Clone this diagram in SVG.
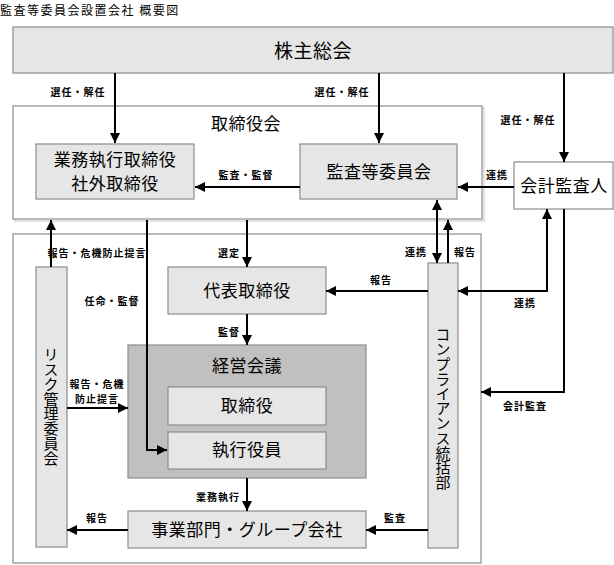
<svg xmlns="http://www.w3.org/2000/svg" width="614" height="565" viewBox="0 0 614 565">
<style>
text{font-family:"Noto Sans CJK JP","Noto Sans CJK SC",sans-serif;fill:#000}
.box{fill:#e6e6e6;stroke:#8c8c8c;stroke-width:1.2}
.frame{fill:#fff;stroke:#8c8c8c;stroke-width:1.2}
.dark{fill:#c0c0c0;stroke:#8c8c8c;stroke-width:1.2}
.sh{fill:none;stroke:#cfcfcf;stroke-width:1.2}
.t{font-size:17px;text-anchor:middle;letter-spacing:0.5px}
.v{font-size:15px;writing-mode:vertical-rl;text-anchor:start;letter-spacing:-0.2px}
.l{font-size:10px;font-weight:bold;text-anchor:middle;letter-spacing:1px}
.c{fill:none;stroke:#000;stroke-width:2}
</style>
<defs>
<marker id="ah" viewBox="0 0 10 10" refX="10" refY="5" markerWidth="10" markerHeight="10" markerUnits="userSpaceOnUse" orient="auto-start-reverse">
<path d="M0,0 L10,5 L0,10 z" fill="#000"/>
</marker>
</defs>
<rect width="614" height="565" fill="#fff"/>
<text x="0" y="15" style="font-size:12px;letter-spacing:1.5px">監査等委員会設置会社 概要図</text>

<g id="shareholders">
<rect class="box" x="13" y="27" width="600" height="46"/>
<text class="t" x="313" y="58" style="font-size:19px">株主総会</text>
</g>
<g id="board">
<rect class="sh" x="15" y="108" width="469" height="113"/>
<rect class="frame" x="13" y="106" width="469" height="113"/>
<text class="t" x="246" y="130">取締役会</text>
</g>
<g id="exec-directors">
<rect class="box" x="36" y="144" width="158" height="55"/>
<text class="t" x="115" y="166">業務執行取締役</text>
<text class="t" x="115" y="190">社外取締役</text>
</g>
<g id="audit-committee">
<rect class="box" x="300" y="144" width="157" height="55"/>
<text class="t" x="379" y="178">監査等委員会</text>
</g>
<g id="auditor">
<rect class="frame" x="514" y="162" width="99" height="47"/>
<text class="t" x="564" y="192">会計監査人</text>
</g>
<g id="lower-frame">
<rect class="frame" x="13" y="234" width="468" height="329"/>
</g>
<g id="risk-committee">
<rect class="box" x="36" y="267" width="31" height="280"/>
<text class="v" x="51" y="347">リスク管理委員会</text>
</g>
<g id="compliance">
<rect class="box" x="428" y="263" width="30" height="285"/>
<text class="v" x="443" y="327">コンプライアンス統括部</text>
</g>
<g id="representative">
<rect class="box" x="168" y="267" width="158" height="47"/>
<text class="t" x="247" y="297">代表取締役</text>
</g>
<g id="management-meeting">
<rect class="dark" x="128" y="345" width="238" height="133"/>
<text class="t" x="247" y="372">経営会議</text>
</g>
<g id="directors">
<rect class="box" x="168" y="387" width="158" height="38"/>
<text class="t" x="247" y="412">取締役</text>
</g>
<g id="officers">
<rect class="box" x="168" y="432" width="158" height="37"/>
<text class="t" x="247" y="456">執行役員</text>
</g>
<g id="business">
<rect class="box" x="128" y="511" width="238" height="37"/>
<text class="t" x="247" y="536">事業部門・グループ会社</text>
</g>

<g id="connectors">
<path class="c" d="M115,73 V143" marker-end="url(#ah)"/>
<path class="c" d="M379,73 V143" marker-end="url(#ah)"/>
<path class="c" d="M564,73 V162" marker-end="url(#ah)"/>
<path class="c" d="M300,187 H195" marker-end="url(#ah)"/>
<path class="c" d="M514,187 H458" marker-end="url(#ah)"/>
<path class="c" d="M437,200 V263" marker-start="url(#ah)" marker-end="url(#ah)"/>
<path class="c" d="M448,263 V220" marker-end="url(#ah)"/>
<path class="c" d="M51,267 V220" marker-end="url(#ah)"/>
<path class="c" d="M147,220 V450 H167" marker-end="url(#ah)"/>
<path class="c" d="M247,220 V267" marker-end="url(#ah)"/>
<path class="c" d="M247,314 V345" marker-end="url(#ah)"/>
<path class="c" d="M67,408 H128" marker-end="url(#ah)"/>
<path class="c" d="M247,478 V511" marker-end="url(#ah)"/>
<path class="c" d="M128,530 H67" marker-end="url(#ah)"/>
<path class="c" d="M428,530 H366" marker-end="url(#ah)"/>
<path class="c" d="M428,291 H326" marker-end="url(#ah)"/>
<path class="c" d="M458,291 H547 V209" marker-start="url(#ah)" marker-end="url(#ah)"/>
<path class="c" d="M564,209 V392 H481" marker-end="url(#ah)"/>
<text class="l" x="78" y="96">選任・解任</text>
<text class="l" x="342" y="96">選任・解任</text>
<text class="l" x="528" y="124">選任・解任</text>
<text class="l" x="246" y="179">監査・監督</text>
<text class="l" x="497" y="179">連携</text>
<text class="l" x="97" y="257">報告・危機防止提言</text>
<text class="l" x="229" y="257">選定</text>
<text class="l" x="416" y="256">連携</text>
<text class="l" x="465" y="256">報告</text>
<text class="l" x="112" y="305">任命・監督</text>
<text class="l" x="381" y="284">報告</text>
<text class="l" x="525" y="307">連携</text>
<text class="l" x="229" y="336">監督</text>
<text class="l" x="97" y="388">報告・危機</text>
<text class="l" x="97" y="403">防止提言</text>
<text class="l" x="525" y="410">会計監査</text>
<text class="l" x="218" y="501">業務執行</text>
<text class="l" x="97" y="522">報告</text>
<text class="l" x="395" y="522">監査</text>
</g>
</svg>
